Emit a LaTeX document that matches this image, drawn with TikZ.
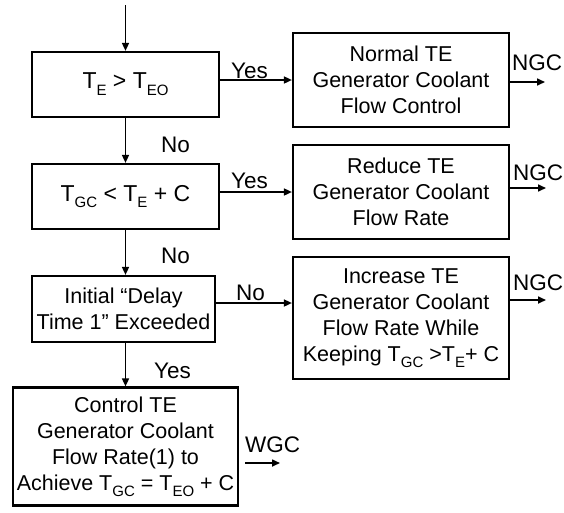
\documentclass[tikz,border=0pt]{standalone}
\usepackage{fontspec}
\setmainfont{Liberation Sans}
\usetikzlibrary{arrows.meta}
\newcommand\mysub[1]{\raisebox{-0.3em}{\fontsize{15}{15}\selectfont #1}}
\begin{document}
\begin{tikzpicture}[x=1pt,y=-1pt,
  box/.style={draw,line width=2.2pt,align=center,inner sep=0pt,font=\fontsize{21.5}{26}\selectfont},
  cond/.style={box,font=\fontsize{23}{26}\selectfont},
  arr/.style={line width=1.6pt,-{Triangle[length=8pt,width=7pt]}},
  lbl/.style={font=\fontsize{22.5}{22.5}\selectfont,inner sep=0pt,anchor=base west}]
\useasboundingbox (0,0) rectangle (564,512);
\clip (0,0) rectangle (564,512);
\fill[white] (0,0) rectangle (564,512);

% decision / left column
\node[cond, minimum width=187pt, minimum height=65pt] (d1) at (125.5,84.5) {T\mysub{E} > T\mysub{EO}};
\node[cond, minimum width=187pt, minimum height=65pt] (d2) at (125.5,196.5) {T\mysub{GC} < T\mysub{E} + C};
\node[box, minimum width=183pt, minimum height=66pt] (d3) at (123.5,309) {Initial “Delay\\Time 1” Exceeded};
\node[box, minimum width=225pt, minimum height=118pt] (d4) at (125.5,446.5) {Control TE\\Generator Coolant\\Flow Rate(1) to\\Achieve T\mysub{GC} = T\mysub{EO} + C};

% process / right column
\node[box, minimum width=216pt, minimum height=94pt] (pA) at (401,80) {Normal TE\\Generator Coolant\\Flow Control};
\node[box, minimum width=216pt, minimum height=94pt] (pB) at (401,192) {Reduce TE\\Generator Coolant\\Flow Rate};
\node[box, minimum width=216pt, minimum height=122pt] (pC) at (401,318) {Increase TE\\Generator Coolant\\Flow Rate While\\Keeping T\mysub{GC} >T\mysub{E}+ C};

% coordinates
\coordinate (start) at (125.5,5);
\coordinate (y3) at (0,303);
\coordinate (oA) at (545,82);
\coordinate (oB) at (546,188);
\coordinate (oC) at (546,300);
\coordinate (oBs) at (510,188);
\coordinate (oCs) at (510,300);
\coordinate (wS) at (245,463);
\coordinate (wE) at (280,463);

% vertical flow
\draw[arr] (start) -- (d1.north);
\draw[arr] (d1.south) -- (d2.north);
\draw[arr] (d2.south) -- (d2.south |- d3.north);
\draw[arr] (d2.south |- d3.south) -- (d4.north);

% horizontal flow
\draw[arr] (d1.east |- pA.west) -- (pA.west);
\draw[arr] (d2.east |- pB.west) -- (pB.west);
\draw[arr] (d3.east |- y3) -- (pC.west |- y3);

% outputs
\draw[arr] (pA.east |- oA) -- (oA);
\draw[arr] (oBs) -- (oB);
\draw[arr] (oCs) -- (oC);
\draw[arr] (wS) -- (wE);

% labels
\node[lbl] (l1) at (161,152) {No};
\node[lbl] (l2) at (161,263) {No};
\node[lbl] (l3) at (154,378) {Yes};
\node[lbl] (l4) at (231,78) {Yes};
\node[lbl] (l5) at (231,188) {Yes};
\node[lbl] (l6) at (236,300) {No};
\node[lbl] (n1) at (512,70) {NGC};
\node[lbl] (n2) at (513,180) {NGC};
\node[lbl] (n3) at (513,290) {NGC};
\node[lbl] (w1) at (245,452) {WGC};
\end{tikzpicture}
\end{document}
